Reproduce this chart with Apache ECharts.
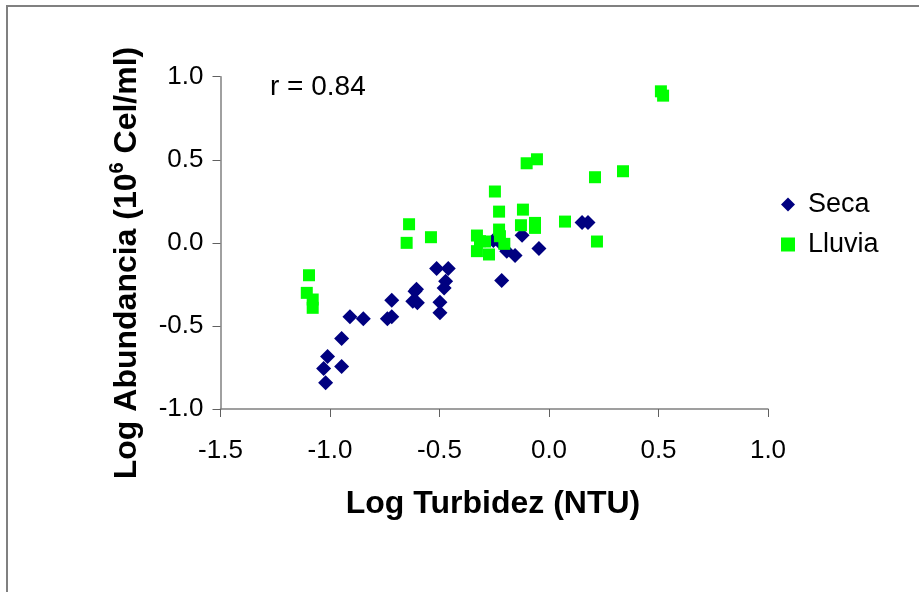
<!DOCTYPE html>
<html>
<head>
<meta charset="utf-8">
<script src="https://cdn.jsdelivr.net/npm/echarts@6/dist/echarts.min.js"></script>
<style>
html,body{margin:0;padding:0;background:#fff;}
#chart{width:919px;height:592px;}
</style>
</head>
<body>
<div id="chart"></div>
<script>
// Data
var secaX = [-1.020, -1.029, -1.011, -0.947, -0.947, -0.909, -0.848, -0.738, -0.718, -0.718,
             -0.622, -0.601, -0.612, -0.605, -0.513, -0.460, -0.472, -0.479, -0.498, -0.498,
             -0.216, -0.155, -0.193, -0.254, -0.215, -0.123, -0.046, 0.151, 0.178];
var secaY = [-0.842, -0.756, -0.684, -0.744, -0.575, -0.445, -0.457, -0.457, -0.445, -0.345,
             -0.351, -0.361, -0.291, -0.280, -0.155, -0.155, -0.231, -0.271, -0.357, -0.421,
             -0.227, -0.076, -0.050, 0.014, -0.010, 0.046, -0.034, 0.122, 0.122];
var lluviaX = [-1.096, -1.106, -1.079, -1.079, -0.650, -0.639, -0.539, -0.329, -0.315, -0.292,
               -0.329, -0.274, -0.247, -0.228, -0.228, -0.224, -0.204, -0.119, -0.128, -0.064,
               -0.064, -0.102, -0.055, 0.073, 0.219, 0.210, 0.338, 0.511, 0.521];
var lluviaY = [-0.195, -0.301, -0.341, -0.391, 0.000, 0.112, 0.034, 0.044, 0.010, 0.008,
               -0.050, -0.070, 0.309, 0.188, 0.080, 0.040, -0.006, 0.200, 0.106, 0.120,
               0.090, 0.479, 0.503, 0.128, 0.008, 0.395, 0.431, 0.912, 0.886];
var seriesNames = ['Seca', 'Lluvia'];
var xTitle = 'Log Turbidez (NTU)';
var yTitleParts = ['Log Abundancia (10', '6', ' Cel/ml)'];
var rLabel = 'r = 0.84';

function zip(a, b) { return a.map(function (v, i) { return [v, b[i]]; }); }

var FONT = '"Liberation Sans", Arial, sans-serif';
var chart = echarts.init(document.getElementById('chart'));
chart.setOption({
  animation: false,
  backgroundColor: '#ffffff',
  grid: { left: 220.5, top: 76.7, right: 151, bottom: 183, outerBoundsMode: 'none' },
  xAxis: {
    type: 'value', min: -1.5, max: 1.0, interval: 0.5,
    axisLine: { onZero: false, lineStyle: { color: '#808080', width: 1.5 } },
    axisTick: { show: true, inside: false, length: 8, lineStyle: { color: '#606060', width: 1 } },
    axisLabel: { color: '#000', fontFamily: FONT, fontSize: 26, margin: 29,
      formatter: function (v) { return v.toFixed(1); } },
    splitLine: { show: false }
  },
  yAxis: {
    type: 'value', min: -1.0, max: 1.0, interval: 0.5,
    axisLine: { onZero: false, lineStyle: { color: '#808080', width: 1.5 } },
    axisTick: { show: true, inside: false, length: 8, lineStyle: { color: '#606060', width: 1 } },
    axisLabel: { color: '#000', fontFamily: FONT, fontSize: 26, margin: 17,
      formatter: function (v) { return v.toFixed(1); } },
    splitLine: { show: false }
  },
  legend: {
    orient: 'vertical', left: 781, top: 191, padding: 0,
    itemWidth: 14, itemHeight: 14, itemGap: 13,
    data: seriesNames,
    textStyle: { color: '#000', fontFamily: FONT, fontSize: 27, lineHeight: 27, padding: [0, 0, 0, 8] }
  },
  series: [
    { name: seriesNames[0], type: 'scatter', symbol: 'diamond', symbolSize: 15,
      itemStyle: { color: '#000080', opacity: 1 }, data: zip(secaX, secaY) },
    { name: seriesNames[1], type: 'scatter', symbol: 'rect', symbolSize: 12,
      itemStyle: { color: '#00ff00', opacity: 1 }, data: zip(lluviaX, lluviaY) }
  ],
  graphic: [
    { type: 'rect', silent: true, shape: { x: 7, y: 6, width: 940, height: 620 },
      style: { fill: 'none', stroke: '#808080', lineWidth: 2 } },
    { type: 'text', x: 270, y: 87, silent: true,
      style: { text: rLabel, fill: '#000', font: '28px ' + FONT, align: 'left', verticalAlign: 'middle' } },
    { type: 'text', x: 493, y: 504, silent: true,
      style: { text: xTitle, fill: '#000', font: 'bold 32px ' + FONT, align: 'center', verticalAlign: 'middle' } },
    { type: 'text', x: 125, y: 263, rotation: Math.PI / 2, silent: true,
      style: {
        text: '{a|' + yTitleParts[0] + '}{s|' + yTitleParts[1] + '}{a|' + yTitleParts[2] + '}',
        align: 'center', verticalAlign: 'middle',
        rich: {
          a: { fontFamily: FONT, fontWeight: 'bold', fontSize: 32, fill: '#000', color: '#000', verticalAlign: 'bottom', lineHeight: 36 },
          s: { fontFamily: FONT, fontWeight: 'bold', fontSize: 20, fill: '#000', color: '#000', verticalAlign: 'top', lineHeight: 36, padding: [0, 0, 10, 0] }
        }
      } }
  ]
});
</script>
</body>
</html>
